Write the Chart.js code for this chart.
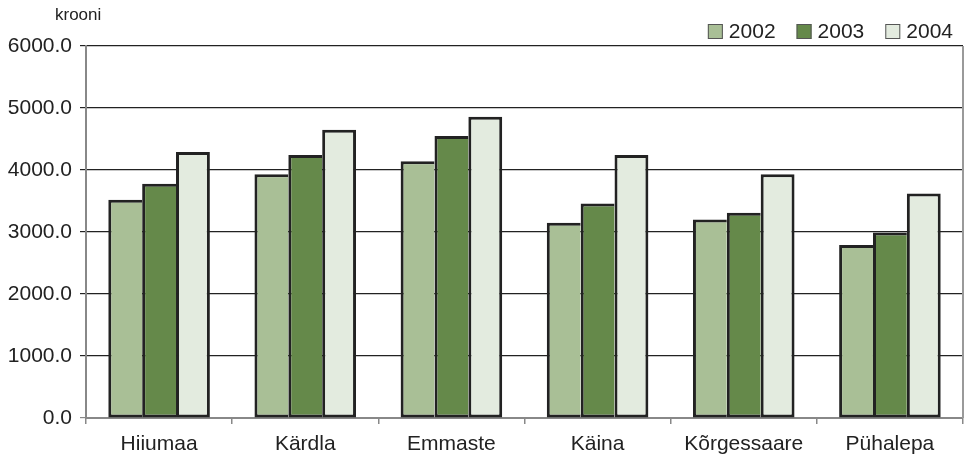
<!DOCTYPE html>
<html>
<head>
<meta charset="utf-8">
<script src="https://cdn.jsdelivr.net/npm/chart.js@4.4.1/dist/chart.umd.min.js"></script>
<style>
  html, body { margin: 0; padding: 0; background: #fff; }
  #wrap { width: 969px; height: 459px; position: relative; }
</style>
</head>
<body>
<div id="wrap"><canvas id="barChart"></canvas></div>
<script>
const categories = ['Hiiumaa', 'Kärdla', 'Emmaste', 'Käina', 'Kõrgessaare', 'Pühalepa'];
const seriesLabels = ['2002', '2003', '2004'];
const values2002 = [3520, 3930, 4140, 3150, 3200, 2790];
const values2003 = [3780, 4240, 4550, 3460, 3310, 2990];
const values2004 = [4290, 4650, 4860, 4240, 3930, 3620];
const seriesColors = ['#a9bf96', '#65894a', '#e3ebdf'];
const unitLabel = 'krooni';
const yMin = 0;
const yMax = 6000;
const yStep = 1000;

const FONT = "'Liberation Sans', Arial, sans-serif";

// draws the unit text, the right frame line and the legend
const extras = {
  id: 'extras',
  afterDraw(chart) {
    const ctx = chart.ctx;
    const area = chart.chartArea;
    ctx.save();

    ctx.strokeStyle = '#9a9a9a';
    ctx.lineWidth = 2;
    ctx.beginPath();
    ctx.moveTo(area.right, area.top);
    ctx.lineTo(area.right, area.bottom);
    ctx.stroke();

    ctx.fillStyle = '#222';
    ctx.font = '17px ' + FONT;
    ctx.textBaseline = 'middle';
    ctx.textAlign = 'left';
    ctx.fillText(unitLabel, 55, 15);

    // legend, right aligned
    ctx.font = '21px ' + FONT;
    const box = 15, gap = 6, spacing = 21;
    const items = chart.data.datasets.map(ds => ({
      text: ds.label, color: ds.backgroundColor, w: ctx.measureText(ds.label).width
    }));
    let x = 953;
    const cy = 31.5;
    for (let i = items.length - 1; i >= 0; i--) {
      const it = items[i];
      const tx = x - it.w;
      const bx = tx - gap - box;
      ctx.fillStyle = it.color;
      ctx.fillRect(bx, cy - box / 2, box, box);
      ctx.strokeStyle = '#555';
      ctx.lineWidth = 1;
      ctx.strokeRect(bx + 0.5, cy - box / 2 + 0.5, box - 1, box - 1);
      ctx.fillStyle = '#222';
      ctx.fillText(it.text, tx, cy + 1);
      x = bx - spacing;
    }
    ctx.restore();
  }
};

// bars in a group touch, so only the last one gets a right edge
const innerBorder = { top: 3, right: 0, bottom: 3, left: 3 };
const lastBorder = { top: 3, right: 3, bottom: 3, left: 3 };

new Chart(document.getElementById('barChart'), {
  type: 'bar',
  data: {
    labels: categories,
    datasets: [
      { label: seriesLabels[0], data: values2002, backgroundColor: seriesColors[0] },
      { label: seriesLabels[1], data: values2003, backgroundColor: seriesColors[1] },
      { label: seriesLabels[2], data: values2004, backgroundColor: seriesColors[2] }
    ].map((ds, i, all) => Object.assign(ds, {
      borderColor: '#222',
      borderWidth: i === all.length - 1 ? lastBorder : innerBorder,
      borderSkipped: false,
      categoryPercentage: 0.695,
      barPercentage: 1.0
    }))
  },
  options: {
    responsive: true,
    maintainAspectRatio: false,
    animation: false,
    layout: { padding: { top: 46, right: 6, left: 0, bottom: 0 } },
    plugins: {
      legend: { display: false },
      tooltip: { enabled: false }
    },
    scales: {
      x: {
        grid: {
          drawOnChartArea: false,
          drawTicks: true,
          tickLength: 6,
          color: '#888',
          lineWidth: 1.5
        },
        border: { color: '#888', width: 2 },
        ticks: {
          color: '#222',
          font: { family: FONT, size: 21 },
          padding: 8,
          maxRotation: 0
        },
        afterFit: scale => { scale.height = 41; }
      },
      y: {
        min: yMin,
        max: yMax,
        grid: {
          color: ctx => ctx.tick && ctx.tick.value === 0 ? '#888' : '#222',
          lineWidth: 1.2,
          tickLength: 6
        },
        border: { color: '#888', width: 2 },
        ticks: {
          stepSize: yStep,
          color: '#222',
          font: { family: FONT, size: 21 },
          padding: 8,
          callback: v => Number(v).toFixed(1)
        },
        afterFit: scale => { scale.width = 86; }
      }
    }
  },
  plugins: [extras]
});
</script>
</body>
</html>
